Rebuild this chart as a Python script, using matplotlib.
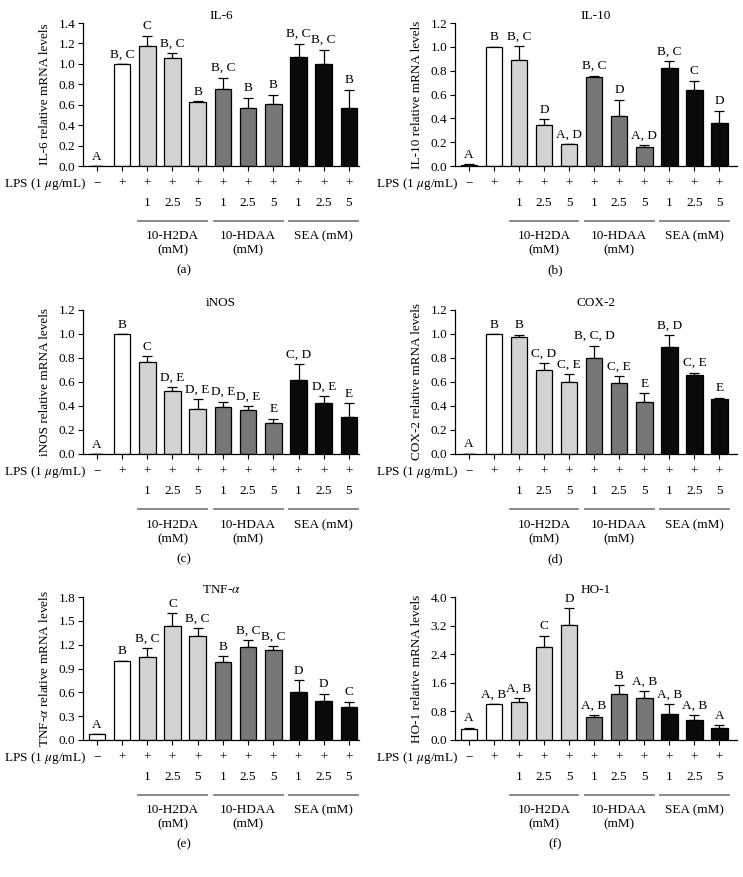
import numpy as np
import matplotlib.pyplot as plt

plt.rcParams['font.family'] = ['Liberation Serif', 'DejaVu Serif']
plt.rcParams['mathtext.fontset'] = 'stix'

# treatment rows shown under every panel
lps_row = ['\u2212', '+', '+', '+', '+', '+', '+', '+', '+', '+', '+']
dose_row = ['', '', '1', '2.5', '5', '1', '2.5', '5', '1', '2.5', '5']
groups = ['10-H2DA\n(mM)', '10-HDAA\n(mM)', 'SEA (mM)']
group_centers = [3, 6, 9]

# bar colours: control, LPS, 10-H2DA x3, 10-HDAA x3, SEA x3
bar_colors = ['white', 'white'] + ['#d3d3d3'] * 3 + ['#777777'] * 3 + ['#0a0a0a'] * 3

# IL-6
il6_mean = [0.0, 1.0, 1.17, 1.06, 0.63, 0.75, 0.565, 0.605, 1.065, 1.0, 0.57]
il6_top = [0.0, 1.0, 1.275, 1.105, 0.632, 0.865, 0.668, 0.70, 1.198, 1.14, 0.748]
il6_letters = ['A', 'B, C', 'C', 'B, C', 'B', 'B, C', 'B', 'B', 'B, C', 'B, C', 'B']

# IL-10
il10_mean = [0.008, 1.0, 0.889, 0.343, 0.181, 0.744, 0.423, 0.156, 0.822, 0.638, 0.359]
il10_top = [0.014, 1.0, 1.006, 0.393, 0.187, 0.758, 0.557, 0.175, 0.883, 0.716, 0.465]
il10_letters = ['A', 'B', 'B, C', 'D', 'A, D', 'B, C', 'D', 'A, D', 'B, C', 'C', 'D']

# iNOS
inos_mean = [0.0, 1.0, 0.769, 0.522, 0.372, 0.394, 0.364, 0.261, 0.617, 0.422, 0.306]
inos_top = [0.0, 1.0, 0.814, 0.556, 0.456, 0.436, 0.40, 0.294, 0.75, 0.48, 0.425]
inos_letters = ['A', 'B', 'C', 'D, E', 'D, E', 'D, E', 'D, E', 'E', 'C, D', 'D, E', 'E']

# COX-2
cox2_mean = [0.003, 1.0, 0.972, 0.70, 0.597, 0.797, 0.589, 0.436, 0.889, 0.658, 0.456]
cox2_top = [0.003, 1.0, 0.994, 0.758, 0.664, 0.903, 0.647, 0.506, 0.994, 0.678, 0.469]
cox2_letters = ['A', 'B', 'B', 'C, D', 'C, E', 'B, C, D', 'C, E', 'E', 'B, D', 'C, E', 'E']

# TNF-alpha
tnf_mean = [0.071, 1.0, 1.049, 1.439, 1.309, 0.982, 1.171, 1.137, 0.60, 0.491, 0.411]
tnf_top = [0.075, 1.0, 1.154, 1.595, 1.41, 1.057, 1.255, 1.183, 0.751, 0.583, 0.483]
tnf_letters = ['A', 'B', 'B, C', 'C', 'B, C', 'B', 'B, C', 'B, C', 'D', 'D', 'C']

# HO-1
ho1_mean = [0.316, 1.005, 1.07, 2.605, 3.219, 0.633, 1.293, 1.163, 0.716, 0.549, 0.344]
ho1_top = [0.344, 1.005, 1.163, 2.912, 3.693, 0.698, 1.526, 1.377, 0.995, 0.688, 0.419]
ho1_letters = ['A', 'A, B', 'A, B', 'C', 'D', 'A, B', 'B', 'A, B', 'A, B', 'A, B', 'A']

panels = [
    ('IL-6', 'IL-6 relative mRNA levels', il6_mean, il6_top, il6_letters, 1.4, 0.2, '(a)'),
    ('IL-10', 'IL-10 relative mRNA levels', il10_mean, il10_top, il10_letters, 1.2, 0.2, '(b)'),
    ('iNOS', 'iNOS relative mRNA levels', inos_mean, inos_top, inos_letters, 1.2, 0.2, '(c)'),
    ('COX-2', 'COX-2 relative mRNA levels', cox2_mean, cox2_top, cox2_letters, 1.2, 0.2, '(d)'),
    (r'TNF-$\alpha$', r'TNF-$\alpha$ relative mRNA levels', tnf_mean, tnf_top, tnf_letters, 1.8, 0.3, '(e)'),
    ('HO-1', 'HO-1 relative mRNA levels', ho1_mean, ho1_top, ho1_letters, 4.0, 0.8, '(f)'),
]

W, H = 743, 877
fig = plt.figure(figsize=(W / 100, H / 100), dpi=100)

row_px = [(23, 166), (310, 454), (597, 740)]
col_px = [(83, 359, 10.4), (455, 737, 10.7)]
fs = 9.5

for i, (title, ylabel, mean, top, letters, ymax, ystep, tag) in enumerate(panels):
    r, c = divmod(i, 2)
    y0, y1 = row_px[r]
    x0, x1, xr = col_px[c]
    ax = fig.add_axes([x0 / W, 1 - y1 / H, (x1 - x0) / W, (y1 - y0) / H])
    x = np.arange(len(mean))
    mean = np.array(mean)
    err = np.array(top) - mean
    ax.bar(x, mean, width=0.66, color=bar_colors, edgecolor='black', linewidth=0.9, zorder=2)
    ax.errorbar(x, mean, yerr=[np.zeros_like(err), err], fmt='none', ecolor='black',
                elinewidth=0.9, capsize=3.5, capthick=0.9, zorder=1)
    for xi, t, lab in zip(x, top, letters):
        ax.annotate(lab, (xi, t), xytext=(0, 2.5), textcoords='offset points',
                    ha='center', va='bottom', fontsize=fs, annotation_clip=False)

    ax.set_xlim(-0.55, xr)
    ax.set_ylim(0, ymax)
    ax.set_yticks(np.arange(0, ymax + ystep / 2, ystep))
    ax.yaxis.set_major_formatter(plt.FormatStrFormatter('%.1f'))
    ax.set_xticks(x)
    ax.set_xticklabels([])
    ax.tick_params(direction='out', length=3.5, width=0.8, labelsize=fs, pad=2)
    for s in ['top', 'right']:
        ax.spines[s].set_visible(False)
    ax.spines['left'].set_linewidth(0.9)
    ax.spines['bottom'].set_linewidth(0.9)
    ax.set_ylabel(ylabel, fontsize=fs, labelpad=5.5)
    ax.set_title(title, fontsize=fs, pad=3)

    # treatment rows below the axis
    trans = ax.get_xaxis_transform()
    ax.text(-0.42, -0.125, 'LPS (1 $\\mu$g/mL)', transform=trans, ha='right', va='center', fontsize=fs)
    for xi, a, d in zip(x, lps_row, dose_row):
        ax.text(xi, -0.125, a, transform=trans, ha='center', va='center', fontsize=fs)
        if d:
            ax.text(xi, -0.26, d, transform=trans, ha='center', va='center', fontsize=fs)
    for gc, g in zip(group_centers, groups):
        ax.plot([gc - 1.37, gc + 1.37], [-0.385, -0.385], transform=trans, color='#808080',
                lw=1.3, clip_on=False)
        ax.text(gc, -0.45, g, transform=trans, ha='center', va='top', fontsize=fs, linespacing=1.25)
    ax.text(3.45, -0.73, tag, transform=trans, ha='center', va='center', fontsize=fs)

fig.savefig('out.png', dpi=100)
